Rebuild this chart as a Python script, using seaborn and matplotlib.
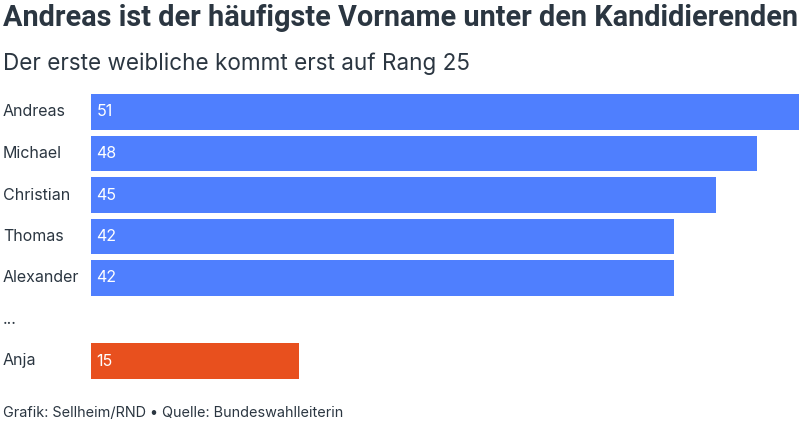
import matplotlib
matplotlib.use("Agg")
import matplotlib.pyplot as plt
import seaborn as sns
import numpy as np
import pandas as pd

names = ["Andreas", "Michael", "Christian", "Thomas", "Alexander", "...", "Anja"]
counts = [51, 48, 45, 42, 42, np.nan, 15]
colors = ["#4f7ffe", "#4f7ffe", "#4f7ffe", "#4f7ffe", "#4f7ffe", "#4f7ffe", "#e8501e"]

title = "Andreas ist der häufigste Vorname unter den Kandidierenden"
subtitle = "Der erste weibliche kommt erst auf Rang 25"
footer = "Grafik: Sellheim/RND \u2022 Quelle: Bundeswahlleiterin"

sns.set_theme(style="white")
plt.rcParams["font.family"] = ["Inter", "DejaVu Sans"]
txt = "#2b3641"

df = pd.DataFrame({"name": names, "count": counts})

fig = plt.figure(figsize=(8, 4.24), dpi=100)
ax = fig.add_axes([91 / 800, 1 - 381.75 / 424, 708 / 800, (381.75 - 91.25) / 424])

sns.barplot(data=df, x="count", y="name", hue="name", palette=colors,
            legend=False, width=0.85, ax=ax, orient="h", saturation=1,
            linewidth=0)
ax.set_xlim(0, 51)
ax.set_ylim(len(names) - 0.5, -0.5)
ax.set_xlabel("")
ax.set_ylabel("")
ax.set_xticks([])
ax.set_yticks([])
sns.despine(ax=ax, left=True, bottom=True)

for i, (n, v) in enumerate(zip(names, counts)):
    ax.text(-88 / 708, i, n, transform=ax.get_yaxis_transform(),
            ha="left", va="center", fontsize=11.5, color=txt)
    if not np.isnan(v):
        ax.annotate(f"{v:.0f}", (0, i), xytext=(4, 0), textcoords="offset points",
                    ha="left", va="center", fontsize=11.5, color="white")

fig.text(3 / 800, 1 - 18 / 424, title, fontsize=20.8, fontweight="bold",
         family=["Roboto", "DejaVu Sans"], color=txt, va="center", ha="left")
fig.text(3 / 800, 1 - 64 / 424, subtitle, fontsize=16.2, color=txt, va="center", ha="left")
fig.text(3 / 800, 1 - 413 / 424, footer, fontsize=10.4, color=txt, va="center", ha="left")

fig.savefig("out.png", dpi=100)
